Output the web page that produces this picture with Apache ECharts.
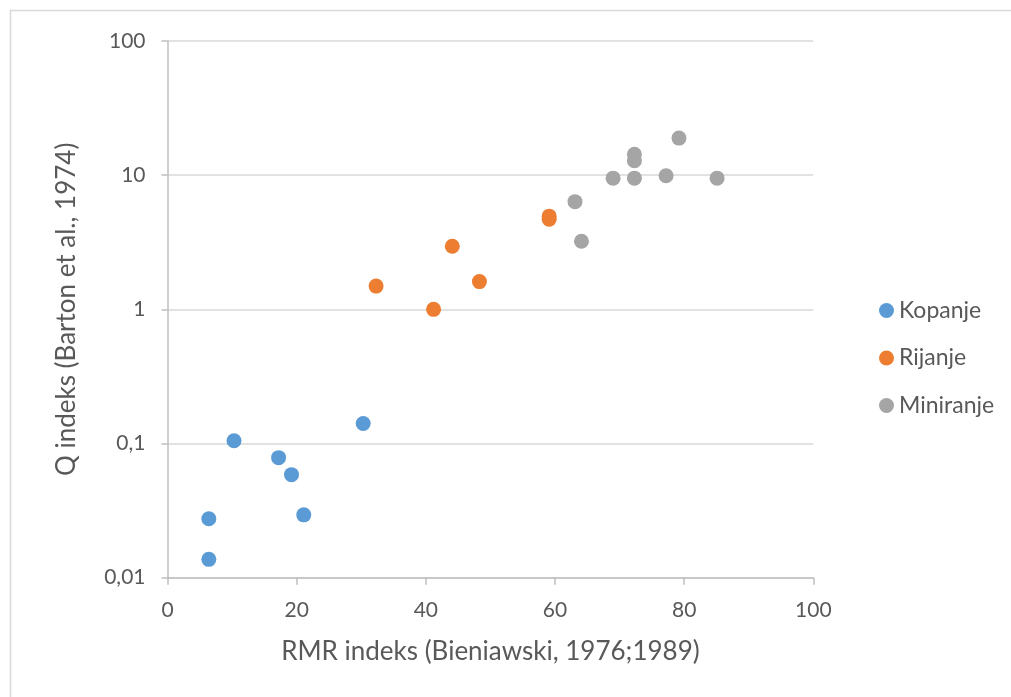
<!DOCTYPE html>
<html>
<head>
<meta charset="utf-8">
<script src="https://cdn.jsdelivr.net/npm/echarts@6/dist/echarts.min.js"></script>
<style>
html,body{margin:0;padding:0;background:#fff;}
#chart{width:1011px;height:697px;}
</style>
</head>
<body>
<div id="chart"></div>
<script>
var seriesNames = ['Kopanje', 'Rijanje', 'Miniranje'];
var kopanjeX = [6.4, 6.4, 10.3, 17.2, 19.2, 21.1, 30.3];
var kopanjeY = [0.0137, 0.0275, 0.105, 0.0785, 0.0586, 0.0294, 0.141];
var rijanjeX = [32.3, 41.2, 44.1, 48.3, 59.1, 59.1];
var rijanjeY = [1.49, 1.0, 2.95, 1.61, 4.95, 4.7];
var miniranjeX = [63.1, 64.1, 69.0, 72.3, 72.3, 72.3, 77.2, 79.2, 85.1];
var miniranjeY = [6.35, 3.22, 9.5, 9.5, 12.8, 14.3, 9.9, 18.9, 9.5];
var xTitle = 'RMR indeks (Bieniawski, 1976;1989)';
var yTitle = 'Q indeks (Barton et al., 1974)';

function pairs(xs, ys) { return xs.map(function (x, i) { return [x, ys[i]]; }); }

var FONT = 'Lato';
var TXT = '#595959';
var chart = echarts.init(document.getElementById('chart'), null, {renderer: 'canvas'});
chart.setOption({
  animation: false,
  backgroundColor: '#ffffff',
  color: ['#5B9BD5', '#ED7D31', '#A5A5A5'],
  graphic: [{
    type: 'rect', left: 8, top: 8,
    shape: {width: 1100, height: 800},
    style: {fill: 'none', stroke: '#D9D9D9', lineWidth: 1.5},
    silent: true
  }],
  grid: {left: 167.5, right: 197.7, top: 41, bottom: 119.3, containLabel: false},
  legend: {
    orient: 'vertical', left: 874, top: 294,
    icon: 'circle', itemWidth: 15, itemHeight: 15, itemGap: 24.5,
    data: seriesNames,
    textStyle: {fontFamily: FONT, fontSize: 23, color: TXT, lineHeight: 23}
  },
  xAxis: {
    type: 'value', min: 0, max: 100, interval: 20,
    name: xTitle, nameLocation: 'middle', nameGap: 61,
    nameTextStyle: {fontFamily: FONT, fontSize: 26, color: TXT},
    axisLine: {show: true, onZero: false, lineStyle: {color: '#BFBFBF', width: 1.5}},
    axisTick: {show: true, inside: false, length: 7, lineStyle: {color: '#BFBFBF', width: 1.5}},
    axisLabel: {fontFamily: FONT, fontSize: 21, color: TXT, margin: 22},
    splitLine: {show: false}
  },
  yAxis: {
    type: 'log', logBase: 10, min: 0.01, max: 100,
    name: yTitle, nameLocation: 'middle', nameGap: 88, nameRotate: 90,
    nameTextStyle: {fontFamily: FONT, fontSize: 26, color: TXT},
    axisLine: {show: true, lineStyle: {color: '#BFBFBF', width: 1.5}},
    axisTick: {show: true, inside: false, length: 6, lineStyle: {color: '#BFBFBF', width: 1.5}},
    minorTick: {show: false},
    axisLabel: {
      fontFamily: FONT, fontSize: 21, color: TXT, margin: 22,
      formatter: function (v) { return String(+Number(v).toPrecision(3)).replace('.', ','); }
    },
    splitLine: {show: true, lineStyle: {color: '#D9D9D9', width: 1.5}}
  },
  series: [
    {name: seriesNames[0], type: 'scatter', symbolSize: 15, itemStyle: {opacity: 1}, data: pairs(kopanjeX, kopanjeY)},
    {name: seriesNames[1], type: 'scatter', symbolSize: 15, itemStyle: {opacity: 1}, data: pairs(rijanjeX, rijanjeY)},
    {name: seriesNames[2], type: 'scatter', symbolSize: 15, itemStyle: {opacity: 1}, data: pairs(miniranjeX, miniranjeY)}
  ]
});
</script>
</body>
</html>
